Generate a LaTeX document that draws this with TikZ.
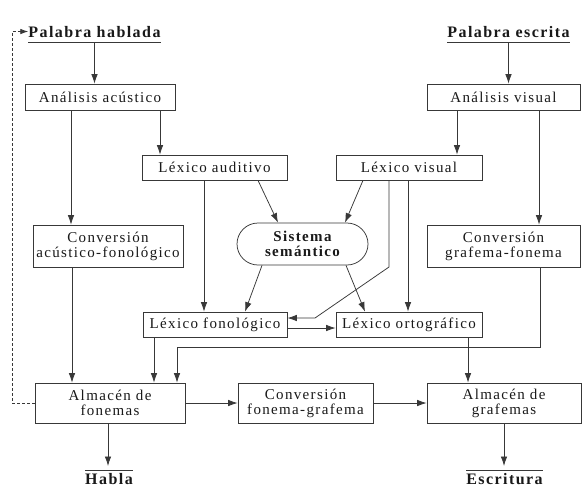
\documentclass[tikz,border=0pt]{standalone}
\usepackage{fontspec}
\setmainfont{Liberation Serif}[LetterSpace=9]
\usetikzlibrary{arrows.meta,calc}

\begin{document}
\begin{tikzpicture}[x=1pt,y=-1pt,
  ink/.style={draw=black!78, line width=0.75pt},
  box/.style={ink, rectangle, inner sep=0pt, align=center,
    font=\fontsize{15}{15}\selectfont, text=black!90},
  arr/.style={ink, -{Latex[length=9.5pt,width=6.5pt]}},
  title/.style={font=\bfseries\fontsize{16}{16}\selectfont, inner sep=0pt, text=black!90},
  feedback/.style={ink, dash pattern=on 3pt off 2pt, -{Latex[length=8pt,width=5.5pt]}},
]
\useasboundingbox[fill=white] (0,0) rectangle (585,498);

% inputs
\node[title, anchor=base] (ph) at (94.5,37) {Palabra hablada};
\node[title, anchor=base] (pe) at (508.5,37) {Palabra escrita};
\coordinate (phu) at ($(ph.base)+(0,5)$);
\coordinate (peu) at ($(pe.base)+(0,5)$);
\draw[ink] ($(ph.base west)+(0,5)$) -- ($(ph.base east)+(0,5)$);
\draw[ink] ($(pe.base west)+(0,5)$) -- ($(pe.base east)+(0,5)$);

% processing boxes
\node[box, minimum width=150pt, minimum height=26pt] (aa) at (100,97) {Análisis acústico};
\node[box, minimum width=153pt, minimum height=26pt] (av) at (503.5,97) {Análisis visual};
\node[box, minimum width=145pt, minimum height=25pt] (la) at (214.5,167.5) {Léxico auditivo};
\node[box, minimum width=146pt, minimum height=25pt] (lv) at (409,167.5) {Léxico visual};
\node[box, minimum width=150pt, minimum height=42pt] (caf) at (108,246) {Conversión\\acústico-fonológico};
\node[box, minimum width=153pt, minimum height=42pt] (cgf) at (503.5,246) {Conversión\\grafema-fonema};
\node[box, rounded corners=21pt, minimum width=131pt, minimum height=42pt,
  font=\bfseries\fontsize{15}{15}\selectfont] (sem) at (302.5,244) {Sistema\\semántico};
\node[box, minimum width=144pt, minimum height=25pt] (lf) at (215,324.5) {Léxico fonológico};
\node[box, minimum width=146pt, minimum height=25pt] (lo) at (409,324.5) {Léxico ortográfico};
\node[box, minimum width=150pt, minimum height=40pt] (af) at (110,403) {Almacén de\\fonemas};
\node[box, minimum width=135pt, minimum height=40pt] (cfg) at (305.5,403) {Conversión\\fonema-grafema};
\node[box, minimum width=154pt, minimum height=40pt] (ag) at (504,403) {Almacén de\\grafemas};

% outputs
\node[title, anchor=base] (ha) at (109,484) {Habla};
\node[title, anchor=base] (es) at (504.5,484) {Escritura};
\draw[ink] ($(ha.base west)+(0,-14)$) -- ($(ha.base east)+(0,-14)$);
\draw[ink] ($(es.base west)+(0,-14)$) -- ($(es.base east)+(0,-14)$);

% connectors
\draw[arr] (phu) -- (phu |- aa.north);
\draw[arr] (peu) -- (peu |- av.north);
\draw[arr] (160,0 |- aa.south) -- (160,0 |- la.north);
\draw[arr] (71,0 |- aa.south) -- (71,0 |- caf.north);
\draw[arr] (457,0 |- av.south) -- (457,0 |- lv.north);
\draw[arr] (539,0 |- av.south) -- (539,0 |- cgf.north);

\draw[arr] (258,0 |- la.south) -- (278,0 |- sem.north);
\draw[arr] (363,0 |- lv.south) -- (345,0 |- sem.north);
\draw[arr] (262,0 |- sem.south) -- (245,0 |- lf.north);
\draw[arr] (346,0 |- sem.south) -- (365,0 |- lo.north);

\draw[arr] (204,0 |- la.south) -- (204,0 |- lf.north);
\draw[arr] (408,0 |- lv.south) -- (408,0 |- lo.north);
\draw[arr] (389,0 |- lv.south) -- (389,267) -- (315,318) -- (lf.east |- 0,318);
\draw[arr] (lf.east |- 0,328) -- (lo.west |- 0,328);

\draw[arr] (72,0 |- caf.south) -- (72,0 |- af.north);
\draw[arr] (154,0 |- lf.south) -- (154,0 |- af.north);
\draw[arr] (540,0 |- cgf.south) -- (540,347) -- (177,347) -- (177,0 |- af.north);
\draw[arr] (468,0 |- lo.south) -- (468,0 |- ag.north);

\draw[arr] (af.east) -- (cfg.west);
\draw[arr] (cfg.east) -- (ag.west);

\draw[arr] (108,0 |- af.south) -- (108,466);
\draw[arr] (504,0 |- ag.south) -- (504,466);

% feedback from the phoneme store back to the spoken input
\draw[feedback] (af.west) -- (12,0 |- af.west) -- (12,0 |- ph.west) -- (ph.west);
\end{tikzpicture}
\end{document}
